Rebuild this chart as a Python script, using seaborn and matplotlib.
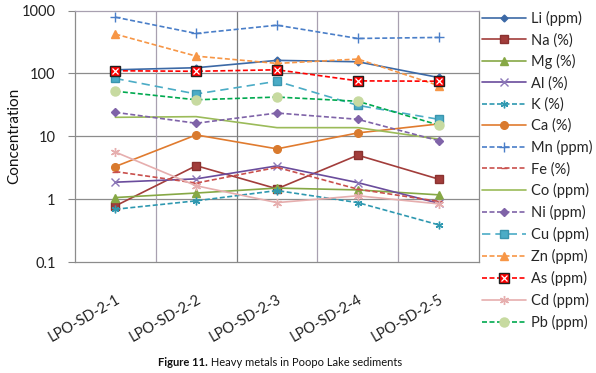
import matplotlib
matplotlib.use("Agg")
import matplotlib.pyplot as plt
import seaborn as sns
import pandas as pd
from matplotlib.ticker import FixedLocator, NullLocator, NullFormatter

samples = ["LPO-SD-2-1", "LPO-SD-2-2", "LPO-SD-2-3", "LPO-SD-2-4", "LPO-SD-2-5"]

li = [114, 123, 161, 153, 86]
na = [0.78, 3.4, 1.46, 5.0, 2.08]
mg = [1.06, 1.25, 1.5, 1.4, 1.17]
al = [1.86, 2.1, 3.38, 1.83, 0.86]
k = [0.69, 0.94, 1.37, 0.88, 0.39]
ca = [3.3, 10.5, 6.3, 11.3, 15.7]
mn = [783, 431, 584, 359, 373]
fe = [2.74, 1.8, 3.2, 1.44, 0.92]
co = [20, 20.5, 13.7, 13.7, 9.0]
ni = [24, 16.1, 23.4, 18.6, 8.5]
cu = [83, 47, 75, 31, 18.6]
zn = [421, 188, 144, 169, 64]
as_ = [110, 108, 114, 76, 75]
cd = [5.6, 1.63, 0.88, 1.13, 0.84]
pb = [52, 38, 42, 36, 15.1]

series_names = ["Li (ppm)", "Na (%)", "Mg (%)", "Al (%)", "K (%)", "Ca (%)", "Mn (ppm)",
                "Fe (%)", "Co (ppm)", "Ni (ppm)", "Cu (ppm)", "Zn (ppm)", "As (ppm)",
                "Cd (ppm)", "Pb (ppm)"]
series_values = [li, na, mg, al, k, ca, mn, fe, co, ni, cu, zn, as_, cd, pb]

yticks = [0.1, 1, 10, 100, 1000]
ytick_labels = ["0.1", "1", "10", "100", "1000"]

asterisk = (6, 2, 0)
styles = {
    "Li (ppm)": dict(color="#3C69A6", ls="-", marker="D", ms=3.5, mfc="#3C69A6", mec="#3C69A6"),
    "Na (%)": dict(color="#A23D3B", ls="-", marker="s", ms=5.5, mfc="#A23D3B", mec="#8A3230"),
    "Mg (%)": dict(color="#86A845", ls="-", marker="^", ms=5.5, mfc="#86A845", mec="#86A845"),
    "Al (%)": dict(color="#6A4C9C", ls="-", marker="x", ms=5.5, mfc="#8C78B8", mec="#8C78B8"),
    "K (%)": dict(color="#2E98B0", ls=(0, (3, 1.5)), marker=asterisk, ms=5.5, mfc="#2E98B0", mec="#2E98B0"),
    "Ca (%)": dict(color="#E07B2F", ls="-", marker="o", ms=5.5, mfc="#D97A2E", mec="#D97A2E"),
    "Mn (ppm)": dict(color="#4A7EC8", ls=(0, (3, 1.5)), marker="+", ms=6.5, mfc="#4A7EC8", mec="#4A7EC8"),
    "Fe (%)": dict(color="#C9504D", ls=(0, (3, 1.5)), marker="_", ms=5, mfc="#C9504D", mec="#C9504D"),
    "Co (ppm)": dict(color="#9BBB59", ls="-", marker=None, ms=0, mfc="#9BBB59", mec="#9BBB59"),
    "Ni (ppm)": dict(color="#7F63A8", ls=(0, (3, 1.5)), marker="D", ms=4, mfc="#7F63A8", mec="#7F63A8"),
    "Cu (ppm)": dict(color="#4BACC6", ls=(0, (5, 3)), marker="s", ms=6, mfc="#4BACC6", mec="#3A95AE"),
    "Zn (ppm)": dict(color="#F79646", ls=(0, (3, 1.5)), marker="^", ms=6, mfc="#F79646", mec="#F79646"),
    "As (ppm)": dict(color="#FF0000", ls=(0, (3, 1.5)), marker="s", ms=6.5, mfc="#FF0000", mec="#202020"),
    "Cd (ppm)": dict(color="#E6AEAE", ls="-", marker=asterisk, ms=6.5, mfc="#E6AEAE", mec="#E6AEAE"),
    "Pb (ppm)": dict(color="#00A94F", ls=(0, (3, 1.5)), marker="o", ms=6.5, mfc="#C7DAA0", mec="#C7DAA0"),
}

sns.set_theme(style="white")
plt.rcParams["font.family"] = ["Lato", "DejaVu Sans"]

fig = plt.figure(figsize=(5.96, 3.73), dpi=100)
ax = fig.add_axes([75 / 596, 1 - 262 / 373, (479 - 75) / 596, (262 - 10.5) / 373])

handles = {}
for name, vals in zip(series_names, series_values):
    st = styles[name]
    df = pd.DataFrame({"sample": samples, "value": vals})
    sns.lineplot(data=df, x="sample", y="value", ax=ax, color=st["color"], linestyle=st["ls"],
                 linewidth=1.2, marker=st["marker"], markersize=st["ms"],
                 markerfacecolor=st["mfc"], markeredgecolor=st["mec"], markeredgewidth=1.0,
                 label=name, sort=False)
    handles[name] = ax.get_lines()[-1]
    if name == "As (ppm)":
        sns.lineplot(data=df, x="sample", y="value", ax=ax, color="#000000", linestyle="none",
                     marker="x", markersize=4, markeredgewidth=0.9, sort=False, legend=False)
        handles[name] = (handles[name], ax.get_lines()[-1])

ax.set_yscale("log")
ax.set_ylim(0.1, 1000)
ax.set_xlim(-0.5, 4.5)
ax.yaxis.set_major_locator(FixedLocator(yticks))
ax.set_yticklabels(ytick_labels, fontsize=10.5, color="#222222")
ax.yaxis.set_minor_locator(NullLocator())
ax.yaxis.set_minor_formatter(NullFormatter())

ax.set_xticks(range(len(samples)))
ax.set_xticklabels(samples, rotation=30, ha="right", rotation_mode="anchor", fontsize=10.5,
                   color="#222222")
ax.tick_params(axis="x", length=0, pad=22)
ax.tick_params(axis="y", length=5, width=0.8, color="#888888", pad=9, left=True)

for yv in [1, 10, 100]:
    ax.axhline(yv, color="#8C8C8C", lw=0.9, zorder=0)
for xv, c in zip([0.5, 1.5, 2.5, 3.5], ["#A8A0B0", "#7E7E7E", "#A8A0B0", "#A8A0B0"]):
    ax.axvline(xv, color=c, lw=0.9, zorder=0)

for side in ["left", "bottom", "right", "top"]:
    ax.spines[side].set_visible(True)
    ax.spines[side].set_color("#8C8C8C")
    ax.spines[side].set_linewidth(0.9)
ax.spines["top"].set_color("#A8A0B0")
ax.spines["top"].set_linestyle((0, (1, 1)))

ax.set_xlabel("")
ax.set_ylabel("Concentration", fontsize=11, color="#111111")
ax.yaxis.set_label_coords(-54 / 404, 0.5)

if ax.get_legend() is not None:
    ax.get_legend().remove()
fig.legend([handles[n] for n in series_names], series_names, loc="upper left",
           bbox_to_anchor=(482 / 596, 1 - 11 / 373), frameon=False, fontsize=10.5,
           handlelength=3.0, handletextpad=0.35, labelspacing=0.475, borderaxespad=0,
           borderpad=0)

t1 = fig.text(158 / 596, 1 - 366 / 373, "Figure 11.", fontsize=8, fontweight="bold",
              color="#111111", ha="left", va="baseline")
fig.text(0, 0, " Heavy metals in Poopo Lake sediments", fontsize=8, color="#111111",
         ha="left", va="baseline", transform=fig.transFigure)
fig.canvas.draw()
bb = t1.get_window_extent()
fig.texts[-1].set_position((bb.x1 / fig.bbox.width, 1 - 366 / 373))

fig.savefig("out.png", dpi=100)
